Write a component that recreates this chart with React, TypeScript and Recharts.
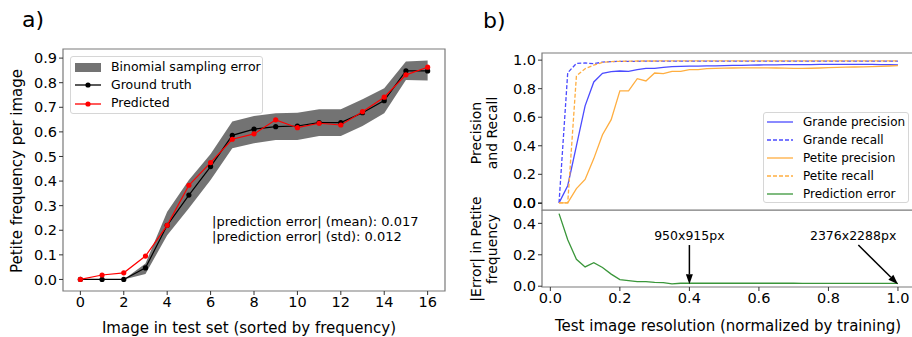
import React from "react";
import {
  ComposedChart,
  LineChart,
  Line,
  Area,
  XAxis,
  YAxis,
  ReferenceArea,
  ReferenceLine,
  ReferenceDot,
} from "recharts";

// panel a
const imageIndex = [0, 1, 2, 3, 4, 5, 6, 7, 8, 9, 10, 11, 12, 13, 14, 15, 16];
const groundTruth = [0, 0, 0, 0.047, 0.22, 0.343, 0.459, 0.586, 0.611, 0.621, 0.624, 0.638, 0.638, 0.678, 0.727, 0.848, 0.848];
const predicted = [0, 0.018, 0.027, 0.095, 0.22, 0.383, 0.475, 0.57, 0.592, 0.649, 0.617, 0.635, 0.628, 0.682, 0.741, 0.832, 0.863];
const bandLow = [0, 0, 0, 0.022, 0.18, 0.289, 0.404, 0.533, 0.554, 0.567, 0.567, 0.583, 0.583, 0.624, 0.676, 0.811, 0.809];
const bandHigh = [0, 0, 0, 0.065, 0.275, 0.404, 0.51, 0.642, 0.665, 0.676, 0.678, 0.692, 0.692, 0.733, 0.777, 0.886, 0.89];
const aTicksX = [0, 2, 4, 6, 8, 10, 12, 14, 16];
const aTicksY = [0, 0.1, 0.2, 0.3, 0.4, 0.5, 0.6, 0.7, 0.8, 0.9];

// panel b
const resolution = [
  0.025, 0.05, 0.075, 0.1, 0.125, 0.15, 0.175, 0.2, 0.225, 0.25,
  0.275, 0.3, 0.325, 0.35, 0.375, 0.4, 0.425, 0.45, 0.475, 0.5,
  0.525, 0.55, 0.575, 0.6, 0.625, 0.65, 0.675, 0.7, 0.725, 0.75,
  0.775, 0.8, 0.825, 0.85, 0.875, 0.9, 0.925, 0.95, 0.975, 1.0,
];
const grandePrecision = [
  0, 0.12, 0.4, 0.68, 0.847, 0.907, 0.919, 0.924, 0.921, 0.933,
  0.942, 0.942, 0.949, 0.954, 0.956, 0.958, 0.958, 0.96, 0.96, 0.962,
  0.963, 0.964, 0.965, 0.966, 0.967, 0.967, 0.968, 0.968, 0.969, 0.969,
  0.97, 0.97, 0.97, 0.971, 0.971, 0.97, 0.97, 0.969, 0.968, 0.966,
];
const grandeRecall = [
  0, 0.912, 0.977, 0.98, 0.975, 0.986, 0.99, 0.991, 0.992, 0.992,
  0.993, 0.993, 0.993, 0.993, 0.993, 0.993, 0.993, 0.993, 0.993, 0.993,
  0.993, 0.993, 0.993, 0.993, 0.993, 0.993, 0.993, 0.993, 0.993, 0.993,
  0.993, 0.993, 0.993, 0.993, 0.993, 0.993, 0.993, 0.993, 0.993, 0.993,
];
const petitePrecision = [
  0, 0, 0.1, 0.164, 0.31, 0.477, 0.583, 0.785, 0.785, 0.87,
  0.854, 0.91, 0.905, 0.921, 0.921, 0.933, 0.933, 0.94, 0.942, 0.944,
  0.945, 0.946, 0.946, 0.946, 0.946, 0.945, 0.944, 0.942, 0.942, 0.943,
  0.945, 0.947, 0.949, 0.951, 0.952, 0.953, 0.954, 0.956, 0.959, 0.962,
];
const petiteRecall = [
  0, 0, 0.889, 0.94, 0.965, 0.984, 0.99, 0.992, 0.993, 0.994,
  0.994, 0.994, 0.995, 0.995, 0.995, 0.995, 0.995, 0.995, 0.995, 0.995,
  0.995, 0.995, 0.995, 0.995, 0.995, 0.995, 0.995, 0.995, 0.995, 0.995,
  0.995, 0.995, 0.995, 0.995, 0.995, 0.995, 0.995, 0.995, 0.995, 0.995,
];
const predictionError = [
  0.462, 0.296, 0.171, 0.123, 0.15, 0.119, 0.077, 0.042, 0.035, 0.029,
  0.029, 0.025, 0.023, 0.015, 0.019, 0.019, 0.019, 0.019, 0.019, 0.019,
  0.019, 0.019, 0.019, 0.019, 0.019, 0.019, 0.019, 0.019, 0.018, 0.018,
  0.018, 0.018, 0.018, 0.018, 0.018, 0.018, 0.018, 0.018, 0.018, 0.018,
];
const bTicksX = [0, 0.2, 0.4, 0.6, 0.8, 1.0];
const bTicksTop = [0, 0.2, 0.4, 0.6, 0.8, 1.0];
const bTicksBottom = [0, 0.2, 0.4];

const aData = imageIndex.map((x, i) => ({
  x,
  truth: groundTruth[i],
  pred: predicted[i],
  band: [bandLow[i], bandHigh[i]],
}));

const bData = resolution.map((x, i) => ({
  x,
  gp: grandePrecision[i],
  gr: grandeRecall[i],
  pp: petitePrecision[i],
  pr: petiteRecall[i],
  err: predictionError[i],
}));

const FONT = "'DejaVu Sans', Verdana, sans-serif";
const SPINE = "#7a7a7a";
const BLUE = "#4b4bff";
const ORANGE = "#ffae40";
const GREEN = "#3a963a";
const tick = { fill: "#000", fontSize: 14.5 };
const fmt1 = (v: number) => v.toFixed(1);

const AX = [-0.8, 16.8];
const AY = [-0.047, 0.937];
const BX = [-0.024, 1.049];
const BY_TOP = [-0.05, 1.05];
const BY_BOT = [-0.005, 0.485];

const Arrow = (p: any) => {
  const { x1, y1, x2, y2 } = p;
  const ang = Math.atan2(y2 - y1, x2 - x1);
  const hl = 10;
  const hw = 3.5;
  const bx = x2 - hl * Math.cos(ang);
  const by = y2 - hl * Math.sin(ang);
  const nx = -Math.sin(ang) * hw;
  const ny = Math.cos(ang) * hw;
  return (
    <g>
      <line x1={x1} y1={y1} x2={bx} y2={by} stroke="#000" strokeWidth={1.5} />
      <polygon
        points={`${x2},${y2} ${bx + nx},${by + ny} ${bx - nx},${by - ny}`}
        fill="#000"
      />
    </g>
  );
};

const abs = (s: React.CSSProperties): React.CSSProperties => ({ position: "absolute", ...s });

const rotated = (cx: number, cy: number, size: number): React.CSSProperties => ({
  position: "absolute",
  left: cx,
  top: cy,
  transform: "translate(-50%, -50%) rotate(-90deg)",
  whiteSpace: "nowrap",
  fontSize: size,
  lineHeight: "16px",
  textAlign: "center",
});

const centered = (cx: number, cy: number, size: number): React.CSSProperties => ({
  position: "absolute",
  left: cx,
  top: cy,
  transform: "translate(-50%, -50%)",
  whiteSpace: "nowrap",
  fontSize: size,
  lineHeight: 1,
});

function LegendLine({ color, dash, dot }: { color: string; dash?: string; dot?: boolean }) {
  return (
    <svg width={26} height={10} style={{ display: "block" }}>
      <line x1={0} y1={5} x2={26} y2={5} stroke={color} strokeWidth={1.3} strokeDasharray={dash} />
      {dot && <circle cx={13} cy={5} r={2.6} fill={color} />}
    </svg>
  );
}

export default function App() {
  const legendA = [
    { label: "Binomial sampling error", kind: "patch" },
    { label: "Ground truth", kind: "line", color: "#000" },
    { label: "Predicted", kind: "line", color: "#ff0000" },
  ];
  const legendB = [
    { label: "Grande precision", color: BLUE },
    { label: "Grande recall", color: BLUE, dash: "4 2" },
    { label: "Petite precision", color: ORANGE },
    { label: "Petite recall", color: ORANGE, dash: "4 2" },
    { label: "Prediction error", color: GREEN },
  ];

  return (
    <div
      style={{
        position: "absolute",
        left: 0,
        top: 0,
        width: 912,
        height: 337,
        overflow: "hidden",
        background: "#fff",
        fontFamily: FONT,
        color: "#000",
      }}
    >
      {/* panel a */}
      <div style={abs({ left: 0, top: 0 })}>
        <ComposedChart width={460} height={321} data={aData} margin={{ top: 49, right: 15, bottom: 0, left: 0 }}>
          <XAxis
            dataKey="x"
            type="number"
            domain={AX}
            allowDataOverflow
            ticks={aTicksX}
            interval={0}
            tick={tick}
            tickSize={4}
            axisLine={false}
            tickLine={{ stroke: "#333" }}
            height={30}
          />
          <YAxis
            type="number"
            domain={AY}
            allowDataOverflow
            ticks={aTicksY}
            interval={0}
            tickFormatter={fmt1}
            tick={tick}
            tickSize={4}
            axisLine={false}
            tickLine={{ stroke: "#333" }}
            width={63}
          />
          <Area
            dataKey="band"
            type="linear"
            stroke="none"
            fill="#000"
            fillOpacity={0.55}
            isAnimationActive={false}
          />
          <Line
            dataKey="truth"
            type="linear"
            stroke="#000"
            strokeWidth={1.2}
            dot={{ r: 2.6, fill: "#000", stroke: "none" }}
            isAnimationActive={false}
          />
          <Line
            dataKey="pred"
            type="linear"
            stroke="#ff0000"
            strokeWidth={1.2}
            dot={{ r: 2.6, fill: "#ff0000", stroke: "none" }}
            isAnimationActive={false}
          />
          <ReferenceArea x1={AX[0]} x2={AX[1]} y1={AY[0]} y2={AY[1]} fill="none" stroke={SPINE} strokeWidth={1.2} />
        </ComposedChart>
      </div>

      <div style={abs({ left: 22, top: 9, fontSize: 22, lineHeight: 1 })}>a)</div>
      <div style={rotated(16.5, 171, 15)}>Petite frequency per image</div>
      <div style={centered(249, 328, 15)}>Image in test set (sorted by frequency)</div>

      <div
        style={abs({
          left: 70,
          top: 56,
          width: 193,
          height: 58,
          boxSizing: "border-box",
          border: "1px solid #d6d6d6",
          borderRadius: 3,
          background: "rgba(255,255,255,0.85)",
        })}
      >
        {legendA.map((it, i) => (
          <div key={it.label} style={abs({ left: 4, top: 5 + i * 18.3, height: 10, display: "flex", alignItems: "center" })}>
            {it.kind === "patch" ? (
              <div style={{ width: 26, height: 9, background: "#737373" }} />
            ) : (
              <LegendLine color={it.color as string} dot />
            )}
            <span style={{ marginLeft: 10, fontSize: 12.5, lineHeight: 1 }}>{it.label}</span>
          </div>
        ))}
      </div>

      <div style={abs({ left: 212, top: 214, fontSize: 13, lineHeight: "15px", whiteSpace: "nowrap" })}>
        |prediction error| (mean): 0.017
        <br />
        |prediction error| (std): 0.012
      </div>

      {/* panel b, bottom */}
      <div style={abs({ left: 462, top: 210 })}>
        <LineChart width={453} height={127} data={bData} margin={{ top: 0, right: 0, bottom: 0, left: 0 }}>
          <XAxis
            dataKey="x"
            type="number"
            domain={BX}
            allowDataOverflow
            ticks={bTicksX}
            interval={0}
            tickFormatter={fmt1}
            tick={tick}
            tickSize={4}
            axisLine={false}
            tickLine={{ stroke: "#333" }}
            height={50}
          />
          <YAxis
            type="number"
            domain={BY_BOT}
            allowDataOverflow
            ticks={bTicksBottom}
            interval={0}
            tickFormatter={fmt1}
            tick={tick}
            tickSize={4}
            axisLine={false}
            tickLine={{ stroke: "#333" }}
            width={80}
          />
          <Line dataKey="err" type="linear" stroke={GREEN} strokeWidth={1.3} dot={false} isAnimationActive={false} />
          <ReferenceLine segment={[{ x: 0.4, y: 0.262 }, { x: 0.4, y: 0.012 }]} shape={Arrow} />
          <ReferenceLine segment={[{ x: 0.886, y: 0.262 }, { x: 1.0, y: 0.012 }]} shape={Arrow} />
          <ReferenceDot
            x={0.4}
            y={0.32}
            r={0}
            fill="none"
            stroke="none"
            label={{ value: "950x915px", position: "center", fontSize: 12.5, fill: "#000" }}
          />
          <ReferenceDot
            x={0.871}
            y={0.32}
            r={0}
            fill="none"
            stroke="none"
            label={{ value: "2376x2288px", position: "center", fontSize: 12.5, fill: "#000" }}
          />
          <ReferenceArea x1={BX[0]} x2={BX[1]} y1={BY_BOT[0]} y2={BY_BOT[1]} fill="none" stroke={SPINE} strokeWidth={1.2} />
        </LineChart>
      </div>

      {/* panel b, top */}
      <div style={abs({ left: 462, top: 0 })}>
        <LineChart width={453} height={226} data={bData} margin={{ top: 53, right: 0, bottom: 0, left: 0 }}>
          <XAxis
            dataKey="x"
            type="number"
            domain={BX}
            tick={false}
            tickLine={false}
            axisLine={false}
            height={16}
          />
          <YAxis
            type="number"
            domain={BY_TOP}
            ticks={bTicksTop}
            interval={0}
            tickFormatter={fmt1}
            tick={tick}
            tickSize={4}
            axisLine={false}
            tickLine={{ stroke: "#333" }}
            width={80}
          />
          <Line dataKey="gp" type="linear" stroke={BLUE} strokeWidth={1.3} dot={false} isAnimationActive={false} />
          <Line dataKey="gr" type="linear" stroke={BLUE} strokeWidth={1.3} strokeDasharray="4 2" dot={false} isAnimationActive={false} />
          <Line dataKey="pp" type="linear" stroke={ORANGE} strokeWidth={1.3} dot={false} isAnimationActive={false} />
          <Line dataKey="pr" type="linear" stroke={ORANGE} strokeWidth={1.3} strokeDasharray="4 2" dot={false} isAnimationActive={false} />
          <ReferenceArea x1={BX[0]} x2={BX[1]} y1={BY_TOP[0]} y2={BY_TOP[1]} fill="none" stroke={SPINE} strokeWidth={1.2} />
        </LineChart>
      </div>

      {/* the top axis keeps dropping its lowest label, so 0.0 is put in by hand */}
      <div style={abs({ left: 536, top: 203, transform: "translate(-100%, -50%)", fontSize: 14.5, lineHeight: 1 })}>
        {fmt1(bTicksTop[0])}
      </div>
      <div style={abs({ left: 538, top: 202.5, width: 4, height: 1, background: "#333" })} />

      <div style={abs({ left: 483, top: 10, fontSize: 22, lineHeight: 1 })}>b)</div>
      <div style={rotated(484, 133, 14)}>
        Precision
        <br />
        and Recall
      </div>
      <div style={rotated(484, 249, 14)}>
        |Error| in Petite
        <br />
        frequency
      </div>
      <div style={centered(728, 326, 15)}>Test image resolution (normalized by training)</div>

      <div
        style={abs({
          left: 763,
          top: 112,
          width: 146,
          height: 91,
          boxSizing: "border-box",
          border: "1px solid #d6d6d6",
          borderRadius: 3,
          background: "rgba(255,255,255,0.85)",
        })}
      >
        {legendB.map((it, i) => (
          <div key={it.label} style={abs({ left: 3, top: 4 + i * 17.9, height: 10, display: "flex", alignItems: "center" })}>
            <LegendLine color={it.color} dash={it.dash} />
            <span style={{ marginLeft: 10, fontSize: 12, lineHeight: 1 }}>{it.label}</span>
          </div>
        ))}
      </div>
    </div>
  );
}
